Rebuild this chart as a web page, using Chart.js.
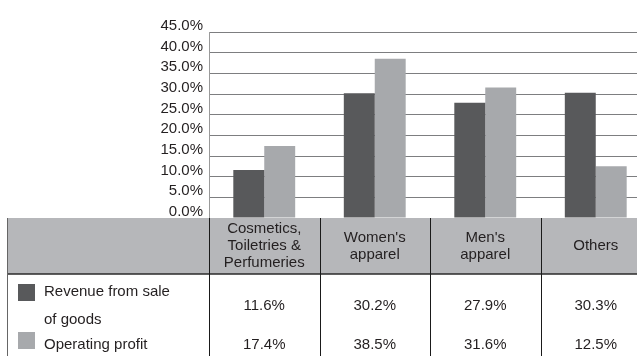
<!DOCTYPE html>
<html lang="en">
<head>
    <meta charset="UTF-8">
    <title>Revenue and operating profit by segment</title>
    <script src="https://cdn.jsdelivr.net/npm/chart.js"></script>
    <style>
        body {
            margin: 0;
            background: #ffffff;
            overflow: hidden;
        }
        .chart-box {
            width: 651px;
            height: 356px;
        }
    </style>
</head>
<body>
    <div class="chart-box">
        <canvas id="segChart" width="651" height="356"></canvas>
    </div>

    <script>
        const categories = [
            ['Cosmetics,', 'Toiletries &', 'Perfumeries'],
            ["Women's", 'apparel'],
            ["Men's", 'apparel'],
            ['Others']
        ];
        const revenueShare = [11.6, 30.2, 27.9, 30.3];
        const profitShare = [17.4, 38.5, 31.6, 12.5];
        const seriesNames = [['Revenue from sale', 'of goods'], ['Operating profit']];
        const yMax = 45;
        const yStep = 5;

        const darkGrey = '#58595b';
        const lightGrey = '#a7a9ac';
        const textColor = '#231f20';
        const font = '15px "Liberation Sans", Arial, sans-serif';

        // draws the data table under the bars, columns taken from the x scale
        const tablePlugin = {
            id: 'segTable',
            afterDraw(chart) {
                const ctx = chart.ctx;
                const xs = chart.scales.x;
                const area = chart.chartArea;
                const top = area.bottom;
                const headBottom = top + 56;
                const bottom = chart.height;
                const step = xs.getPixelForValue(1) - xs.getPixelForValue(0);
                const left = 7;

                ctx.save();
                // header fill
                ctx.fillStyle = '#b6b7ba';
                ctx.fillRect(left, top, chart.width - left, headBottom - top);

                ctx.strokeStyle = '#2a2a2a';
                ctx.lineWidth = 1.5;
                ctx.beginPath();
                ctx.moveTo(left, headBottom);
                ctx.lineTo(chart.width, headBottom);
                ctx.stroke();

                // outer left edge
                ctx.strokeStyle = '#666';
                ctx.lineWidth = 1;
                ctx.beginPath();
                ctx.moveTo(left + 0.5, top);
                ctx.lineTo(left + 0.5, bottom);
                ctx.stroke();

                // column dividers
                ctx.strokeStyle = '#1a1a1a';
                for (let i = 0; i <= categories.length; i++) {
                    const x = Math.round(xs.getPixelForValue(0) - step / 2 + i * step) + 0.5;
                    ctx.beginPath();
                    ctx.moveTo(x, top);
                    ctx.lineTo(x, bottom);
                    ctx.stroke();
                }

                ctx.font = font;
                ctx.fillStyle = textColor;
                ctx.textAlign = 'center';
                ctx.textBaseline = 'middle';

                // header labels
                const mid = (top + headBottom) / 2;
                categories.forEach((lines, i) => {
                    const cx = xs.getPixelForValue(i);
                    lines.forEach((t, j) => {
                        ctx.fillText(t, cx, mid + (j - (lines.length - 1) / 2) * 17);
                    });
                });

                // legend rows
                const row1 = 306;
                const row2 = 345;
                ctx.fillStyle = darkGrey;
                ctx.fillRect(18, 284, 17, 17);
                ctx.fillStyle = lightGrey;
                ctx.fillRect(18, 332, 17, 17);

                ctx.fillStyle = textColor;
                ctx.textAlign = 'left';
                ctx.fillText(seriesNames[0][0], 44, 292);
                ctx.fillText(seriesNames[0][1], 44, 320);
                ctx.fillText(seriesNames[1][0], 44, row2);

                ctx.textAlign = 'center';
                categories.forEach((c, i) => {
                    const cx = xs.getPixelForValue(i);
                    ctx.fillText(revenueShare[i].toFixed(1) + '%', cx, row1);
                    ctx.fillText(profitShare[i].toFixed(1) + '%', cx, row2);
                });
                ctx.restore();
            }
        };

        new Chart(document.getElementById('segChart'), {
            type: 'bar',
            data: {
                labels: categories,
                datasets: [{
                    label: seriesNames[0].join(' '),
                    data: revenueShare,
                    backgroundColor: darkGrey,
                    borderWidth: 0,
                    categoryPercentage: 0.56,
                    barPercentage: 1.0
                }, {
                    label: seriesNames[1].join(' '),
                    data: profitShare,
                    backgroundColor: lightGrey,
                    borderWidth: 0,
                    categoryPercentage: 0.56,
                    barPercentage: 1.0
                }]
            },
            options: {
                responsive: false,
                animation: false,
                layout: {
                    padding: { top: 32, bottom: 138, left: 0, right: 0 }
                },
                plugins: {
                    legend: { display: false },
                    tooltip: { enabled: false }
                },
                scales: {
                    x: {
                        display: false
                    },
                    y: {
                        min: 0,
                        max: yMax,
                        ticks: {
                            stepSize: yStep,
                            autoSkip: false,
                            color: textColor,
                            font: { family: '"Liberation Sans", Arial, sans-serif', size: 15 },
                            padding: 6,
                            labelOffset: -6,
                            callback: v => v.toFixed(1) + '%'
                        },
                        grid: {
                            color: '#7d7e80',
                            lineWidth: 1,
                            drawTicks: false
                        },
                        border: { color: '#9a9a9a' },
                        afterFit: s => { s.width = 209; }
                    }
                }
            },
            plugins: [tablePlugin]
        });
    </script>
</body>
</html>
